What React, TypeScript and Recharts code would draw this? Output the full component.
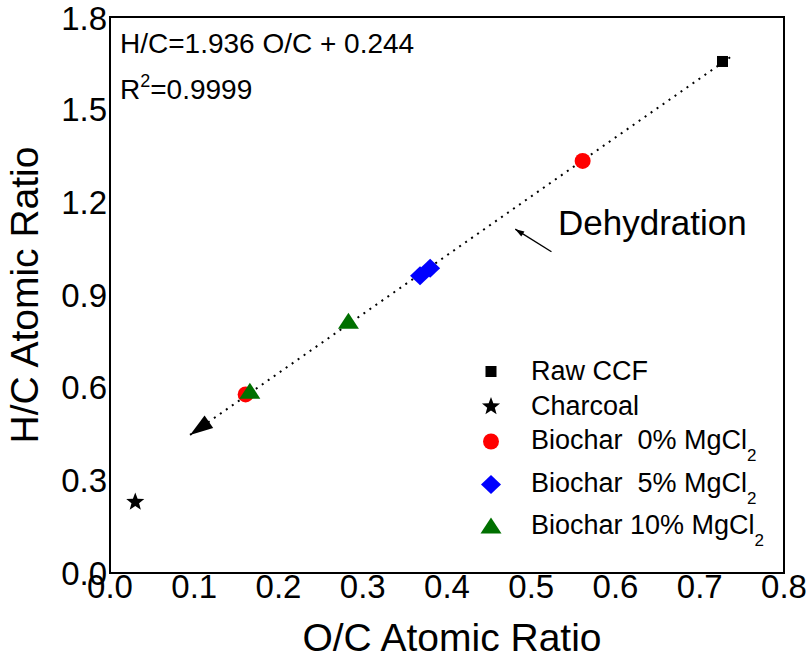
import React from 'react';
import { ScatterChart, Scatter, XAxis, YAxis, ReferenceArea } from 'recharts';

const FONT = "'Liberation Sans', Arial, Helvetica, sans-serif";

// axis ticks
const xTicks = [0, 0.1, 0.2, 0.3, 0.4, 0.5, 0.6, 0.7, 0.8];
const yTicks = [0, 0.3, 0.6, 0.9, 1.2, 1.5, 1.8];

// O/C (x) and H/C (y) of each sample
const rawCcfX = [0.727];
const rawCcfY = [1.656];
const charcoalX = [0.03];
const charcoalY = [0.23];
const bio0X = [0.561, 0.161];
const bio0Y = [1.334, 0.578];
const bio5X = [0.368, 0.38];
const bio5Y = [0.962, 0.987];
const bio10X = [0.166, 0.283];
const bio10Y = [0.587, 0.813];

// dotted trend line, arrow end first
const trendX = [0.095, 0.741];
const trendY = [0.447, 1.679];

// small "Dehydration" pointer, head first
const dehydX = [0.481, 0.524];
const dehydY = [1.113, 1.04];

const pts = (xs: number[], ys: number[]) => xs.map((x, i) => ({ x, y: ys[i] }));

const starPoints = (cx: number, cy: number, ro: number, ri: number) => {
  const p: string[] = [];
  for (let i = 0; i < 10; i++) {
    const r = i % 2 === 0 ? ro : ri;
    const a = -Math.PI / 2 + (i * Math.PI) / 5;
    p.push(`${cx + r * Math.cos(a)},${cy + r * Math.sin(a)}`);
  }
  return p.join(' ');
};

const Square = ({ cx, cy, s = 11 }: any) => <rect x={cx - s / 2} y={cy - s / 2} width={s} height={s} fill="#000" />;
const Star = ({ cx, cy }: any) => <polygon points={starPoints(cx, cy, 9.5, 4)} fill="#000" />;
const Dot = ({ cx, cy }: any) => <circle cx={cx} cy={cy} r={8} fill="#ff0000" />;
const Diamond = ({ cx, cy }: any) => (
  <polygon points={`${cx},${cy - 9.5} ${cx + 10},${cy} ${cx},${cy + 9.5} ${cx - 10},${cy}`} fill="#0000ff" />
);
const Tri = ({ cx, cy }: any) => (
  <polygon points={`${cx},${cy - 9} ${cx + 10.5},${cy + 7} ${cx - 10.5},${cy + 7}`} fill="#007000" />
);
const Nothing = () => <g />;
const BigHead = ({ cx, cy }: any) => (
  <polygon points="0,0 -23,-7.5 -23,7.5" fill="#000" transform={`translate(${cx},${cy}) rotate(145)`} />
);
const SmallHead = ({ cx, cy }: any) => (
  <polygon points="0,0 -9,-3 -9,3" fill="#000" transform={`translate(${cx},${cy}) rotate(-148)`} />
);

const legendRows = [
  { label: 'Raw CCF', sub: '', icon: () => <Square cx={0} cy={0} />, top: 0 },
  { label: 'Charcoal', sub: '', icon: () => <Star cx={0} cy={0} />, top: 35 },
  { label: 'Biochar  0% MgCl', sub: '2', icon: () => <Dot cx={0} cy={0} />, top: 70 },
  { label: 'Biochar  5% MgCl', sub: '2', icon: () => <Diamond cx={0} cy={0} />, top: 113 },
  { label: 'Biochar 10% MgCl', sub: '2', icon: () => <Tri cx={0} cy={0} />, top: 155 },
];

export default function App() {
  const tick = { fill: '#000', fontSize: 33, fontFamily: FONT };
  return (
    <div style={{ position: 'absolute', left: 0, top: 0, width: 810, height: 660, background: '#fff', fontFamily: FONT }}>
      <ScatterChart width={810} height={660} margin={{ top: 17, right: 26, bottom: 0, left: 0 }}>
        <XAxis
          type="number"
          dataKey="x"
          domain={[0, 0.8]}
          ticks={xTicks}
          tickFormatter={(v: number) => v.toFixed(1)}
          tick={tick}
          tickSize={0}
          tickMargin={2}
          axisLine={false}
          height={87}
          allowDataOverflow
        />
        <YAxis
          type="number"
          dataKey="y"
          domain={[0, 1.8]}
          ticks={yTicks}
          tickFormatter={(v: number) => v.toFixed(1)}
          tick={tick}
          tickSize={0}
          tickMargin={3}
          axisLine={false}
          width={110}
          allowDataOverflow
        />
        <ReferenceArea x1={0} x2={0.8} y1={0} y2={1.8} fill="none" stroke="#000" strokeWidth={2} fillOpacity={0} />
        <Scatter
          data={pts(trendX, trendY)}
          line={{ stroke: '#000', strokeWidth: 2, strokeDasharray: '2 5.3' }}
          shape={Nothing}
          isAnimationActive={false}
        />
        <Scatter data={pts(trendX.slice(0, 1), trendY.slice(0, 1))} shape={BigHead} isAnimationActive={false} />
        <Scatter
          data={pts(dehydX, dehydY)}
          line={{ stroke: '#000', strokeWidth: 1.4 }}
          shape={Nothing}
          isAnimationActive={false}
        />
        <Scatter data={pts(dehydX.slice(0, 1), dehydY.slice(0, 1))} shape={SmallHead} isAnimationActive={false} />
        <Scatter data={pts(rawCcfX, rawCcfY)} shape={Square} isAnimationActive={false} />
        <Scatter data={pts(charcoalX, charcoalY)} shape={Star} isAnimationActive={false} />
        <Scatter data={pts(bio0X, bio0Y)} shape={Dot} isAnimationActive={false} />
        <Scatter data={pts(bio5X, bio5Y)} shape={Diamond} isAnimationActive={false} />
        <Scatter data={pts(bio10X, bio10Y)} shape={Tri} isAnimationActive={false} />
      </ScatterChart>

      <svg width={810} height={660} style={{ position: 'absolute', left: 0, top: 0, pointerEvents: 'none' }}>
        <g fontFamily={FONT} fill="#000">
          <text x={120} y={53} fontSize={28}>H/C=1.936 O/C + 0.244</text>
          <text x={120} y={99} fontSize={28}>
            R<tspan fontSize={18} dy={-12}>2</tspan>
            <tspan dy={12}>=0.9999</tspan>
          </text>
          <text x={558} y={235} fontSize={35}>Dehydration</text>
          <text x={452} y={651} fontSize={39} textAnchor="middle">O/C Atomic Ratio</text>
          <text x={38} y={295} fontSize={39} textAnchor="middle" transform="rotate(-90, 38, 295)">
            H/C Atomic Ratio
          </text>
        </g>
      </svg>

      <div style={{ position: 'absolute', left: 470, top: 354, width: 330, height: 200 }}>
        {legendRows.map((r) => (
          <div key={r.label} style={{ position: 'absolute', left: 0, top: r.top, height: 35, display: 'flex', alignItems: 'center' }}>
            <svg width={42} height={35} style={{ marginRight: 19 }}>
              <g transform="translate(21,17.5)">{r.icon()}</g>
            </svg>
            <span style={{ fontSize: 27, color: '#000', whiteSpace: 'pre', lineHeight: '35px' }}>
              {r.label}
              {r.sub ? <span style={{ fontSize: 17, position: 'relative', top: 12 }}>{r.sub}</span> : null}
            </span>
          </div>
        ))}
      </div>
    </div>
  );
}
